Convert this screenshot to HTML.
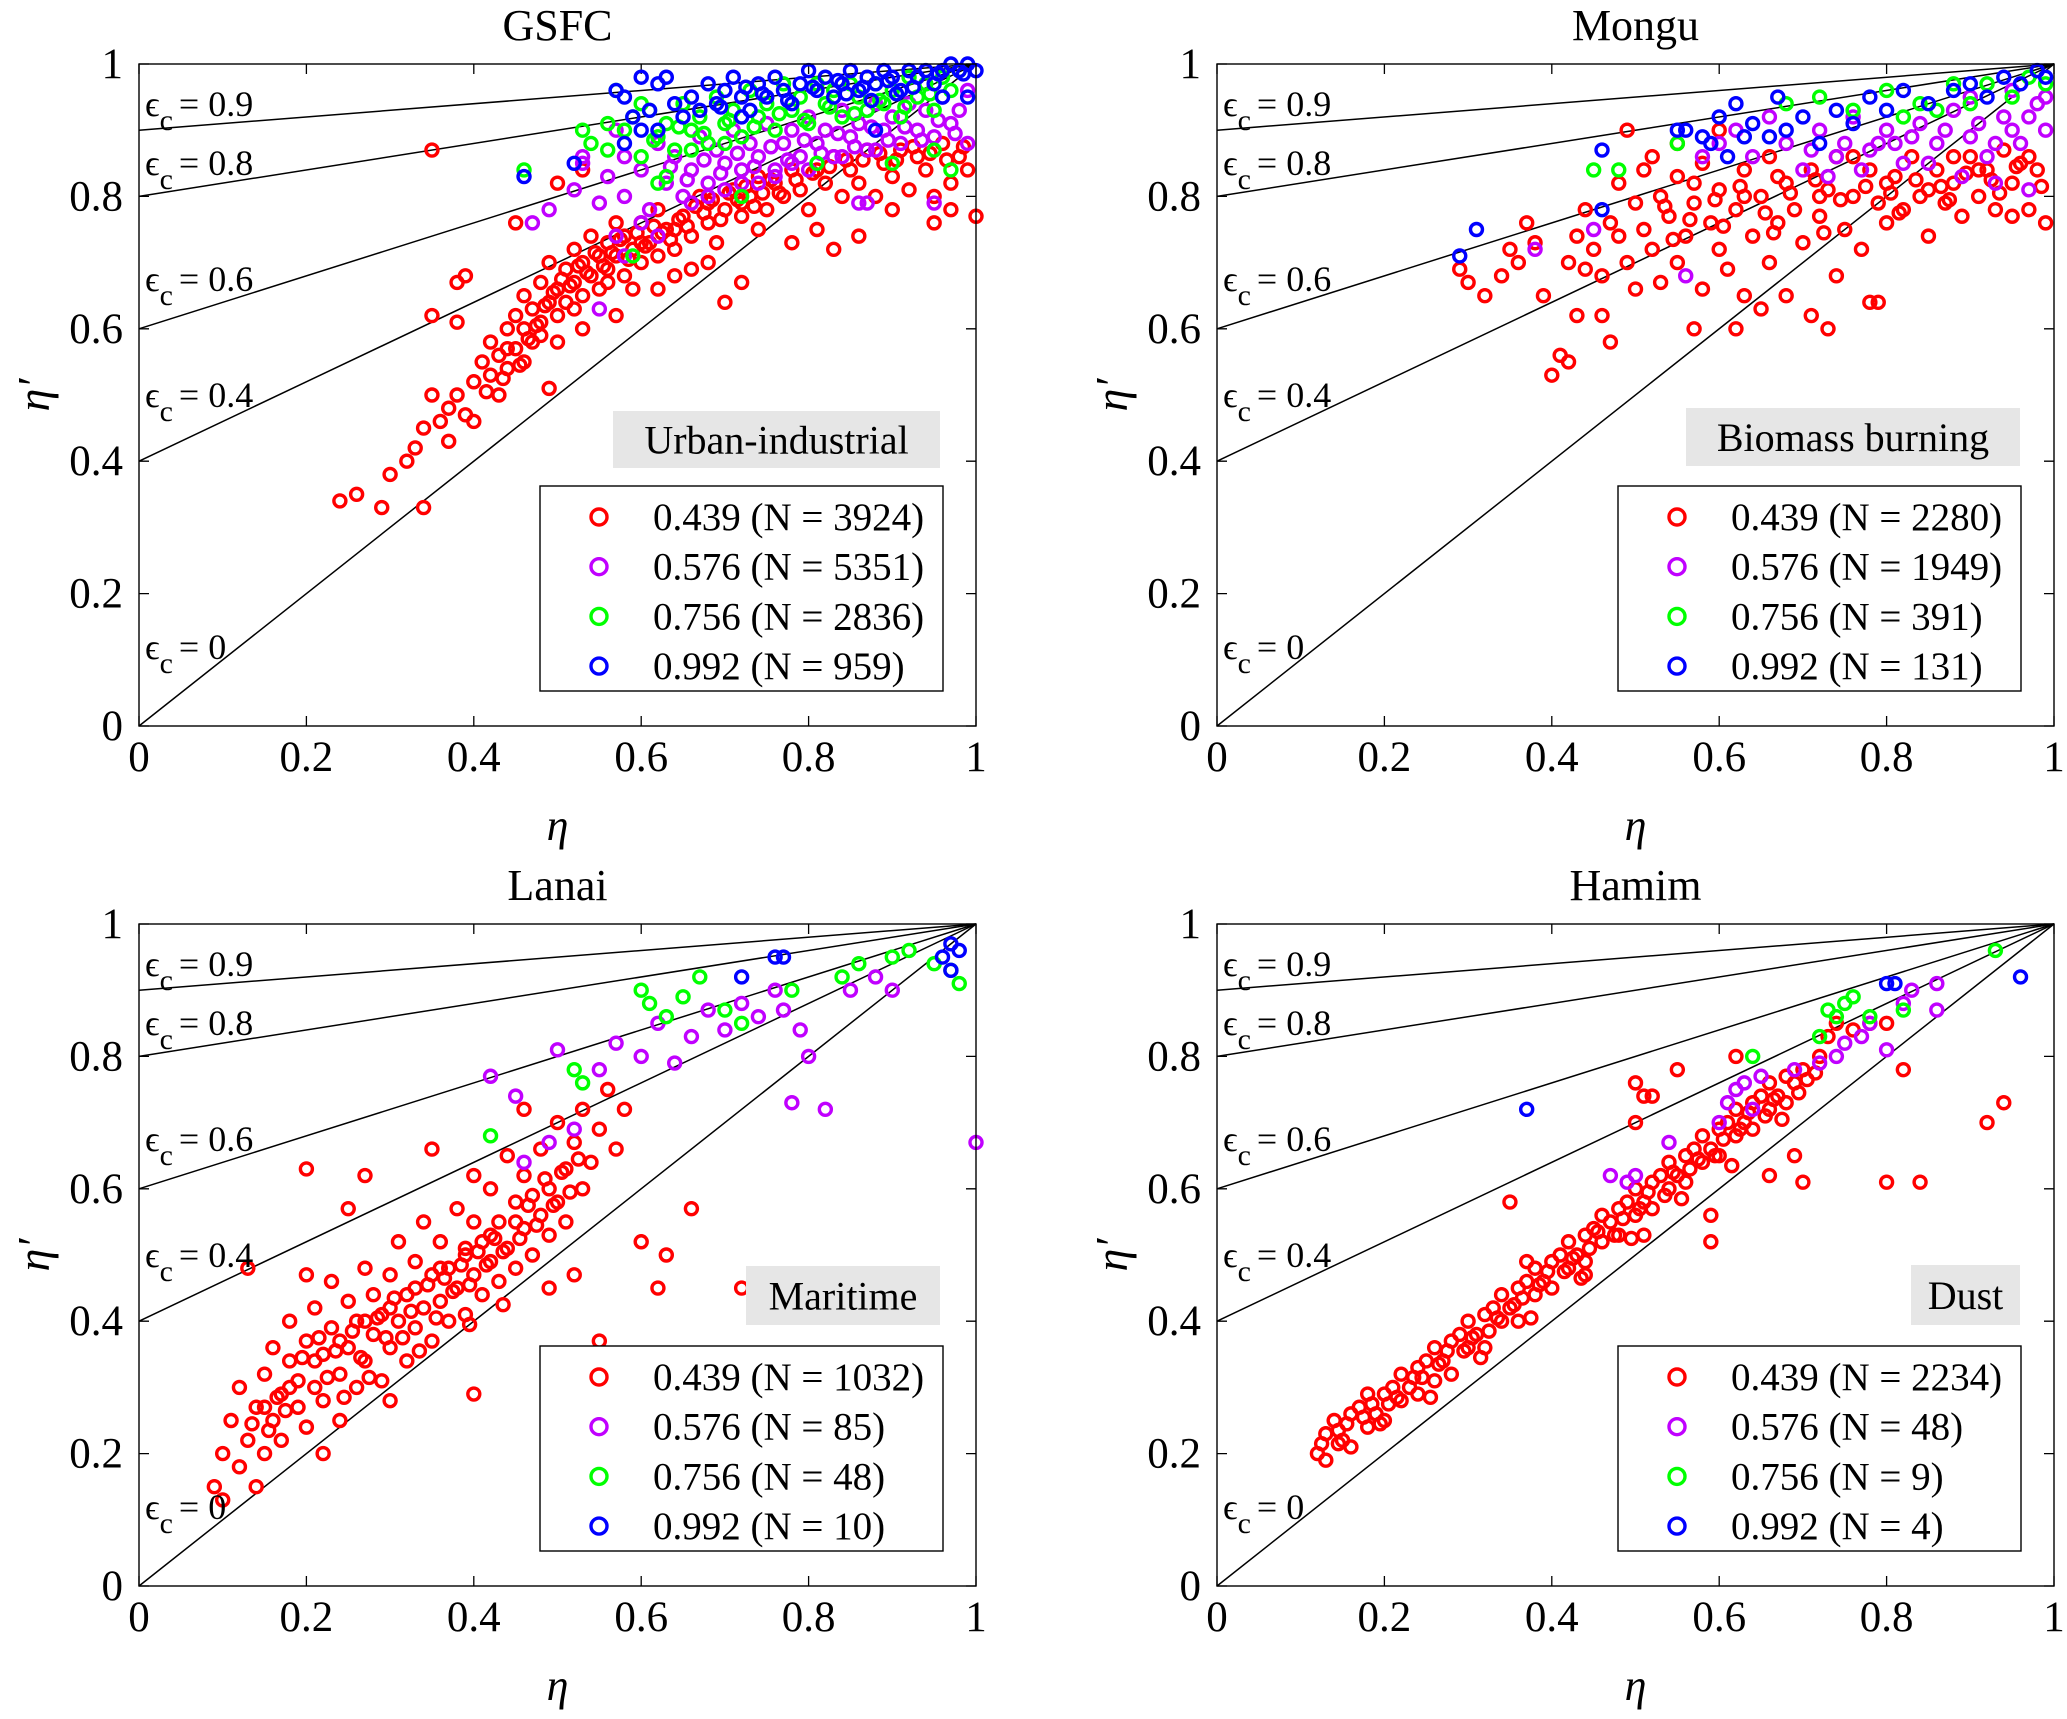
<!DOCTYPE html>
<html><head><meta charset="utf-8"><style>
html,body{margin:0;padding:0;background:#fff;}
svg{display:block;font-family:"Liberation Serif",serif;}
</style></head><body>
<svg id="fig" width="2067" height="1719" viewBox="0 0 2067 1719" xmlns="http://www.w3.org/2000/svg"></svg>
<script>
const epsValues=[0,0.4,0.6,0.8,0.9];
const tickValues=[0,0.2,0.4,0.6,0.8,1];
const tickLabels=["0","0.2","0.4","0.6","0.8","1"];
const seriesColors=["#ff0000","#c000ff","#00ff00","#0000ff"];
const seriesNames=["0.439","0.576","0.756","0.992"];
const titles=["GSFC","Mongu","Lanai","Hamim"];
const typeLabels=["Urban-industrial","Biomass burning","Maritime","Dust"];
const countsGSFC=[3924,5351,2836,959];
const countsMongu=[2280,1949,391,131];
const countsLanai=[1032,85,48,10];
const countsHamim=[2234,48,9,4];

const gsfcRed=[0.36,0.46,0.37,0.48,0.38,0.5,0.39,0.47,0.40,0.52,0.41,0.55,0.42,0.53,0.42,0.58,0.43,0.56,0.44,0.6,0.44,0.54,0.45,0.57,0.45,0.62,0.46,0.6,0.46,0.65,0.47,0.58,0.47,0.63,0.48,0.61,0.48,0.67,0.49,0.64,0.49,0.7,0.50,0.62,0.50,0.66,0.51,0.69,0.51,0.64,0.52,0.72,0.52,0.67,0.53,0.7,0.53,0.65,0.54,0.74,0.54,0.68,0.55,0.71,0.55,0.66,0.56,0.73,0.56,0.69,0.57,0.76,0.57,0.71,0.58,0.68,0.58,0.74,0.59,0.72,0.6,0.7,0.6,0.76,0.61,0.73,0.62,0.71,0.62,0.78,0.63,0.75,0.64,0.72,0.65,0.77,0.66,0.74,0.67,0.8,0.68,0.76,0.69,0.73,0.7,0.78,0.71,0.81,0.72,0.77,0.73,0.8,0.74,0.83,0.75,0.78,0.76,0.82,0.77,0.8,0.78,0.84,0.79,0.81,0.8,0.78,0.81,0.84,0.82,0.82,0.83,0.86,0.84,0.8,0.85,0.84,0.86,0.82,0.87,0.87,0.88,0.8,0.89,0.85,0.9,0.83,0.91,0.87,0.92,0.81,0.93,0.86,0.94,0.84,0.95,0.8,0.96,0.88,0.97,0.82,0.98,0.86,0.99,0.84,0.24,0.34,0.26,0.35,0.29,0.33,0.3,0.38,0.32,0.4,0.33,0.42,0.34,0.33,0.34,0.45,0.35,0.5,0.35,0.87,0.35,0.62,0.38,0.67,0.39,0.68,0.38,0.61,0.49,0.51,0.45,0.76,0.5,0.82,0.53,0.84,0.7,0.64,0.72,0.67,0.78,0.73,0.81,0.75,0.83,0.72,0.86,0.74,0.9,0.78,0.95,0.76,1.0,0.77,0.97,0.78,0.57,0.62,0.62,0.66,0.66,0.69,0.43,0.5,0.46,0.55,0.5,0.58,0.53,0.6,0.59,0.66,0.64,0.68,0.68,0.7,0.74,0.75,0.4,0.46,0.37,0.43,
0.415,0.505,0.435,0.525,0.455,0.545,0.465,0.585,0.475,0.605,0.485,0.635,0.495,0.655,0.505,0.675,0.515,0.665,0.525,0.695,0.535,0.685,0.545,0.715,0.555,0.695,0.565,0.715,0.575,0.735,0.585,0.705,0.595,0.745,0.605,0.725,0.615,0.755,0.625,0.745,0.635,0.735,0.645,0.765,0.655,0.755,0.665,0.785,0.675,0.775,0.685,0.795,0.695,0.765,0.705,0.805,0.715,0.795,0.725,0.815,0.735,0.785,0.745,0.805,0.755,0.825,0.765,0.805,0.785,0.825,0.805,0.835,0.825,0.845,0.845,0.855,0.865,0.855,0.885,0.865,0.905,0.855,0.925,0.875,0.945,0.865,0.965,0.855,0.985,0.875,0.44,0.57,0.48,0.59,0.52,0.63,0.56,0.67,0.6,0.73,0.64,0.75,0.68,0.79,0.72,0.79];
const gsfcPurple=[0.47,0.76,0.49,0.78,0.52,0.81,0.53,0.85,0.55,0.79,0.56,0.83,0.58,0.86,0.58,0.8,0.6,0.84,0.61,0.78,0.62,0.88,0.63,0.82,0.64,0.86,0.65,0.8,0.66,0.84,0.67,0.89,0.68,0.82,0.69,0.87,0.7,0.85,0.71,0.9,0.72,0.84,0.73,0.88,0.74,0.86,0.75,0.91,0.76,0.84,0.77,0.88,0.78,0.9,0.79,0.86,0.8,0.92,0.81,0.88,0.82,0.9,0.83,0.86,0.84,0.93,0.85,0.89,0.86,0.91,0.87,0.87,0.88,0.94,0.89,0.9,0.9,0.92,0.91,0.88,0.92,0.94,0.93,0.9,0.94,0.93,0.95,0.89,0.96,0.95,0.97,0.91,0.98,0.93,0.99,0.88,0.99,0.96,0.57,0.74,0.58,0.71,0.55,0.63,0.6,0.76,0.62,0.74,0.86,0.79,0.87,0.79,0.95,0.79,0.57,0.9,0.53,0.86,0.66,0.79,0.7,0.81,0.74,0.82,0.78,0.85,
0.635,0.845,0.655,0.825,0.675,0.855,0.695,0.835,0.715,0.865,0.735,0.845,0.755,0.875,0.775,0.855,0.795,0.885,0.815,0.865,0.835,0.895,0.855,0.875,0.875,0.905,0.895,0.885,0.915,0.905,0.935,0.885,0.955,0.915,0.975,0.895,0.68,0.8,0.72,0.82,0.76,0.83,0.8,0.84,0.84,0.86,0.88,0.87];
const gsfcGreen=[0.46,0.84,0.57,0.96,0.53,0.9,0.54,0.88,0.56,0.87,0.58,0.9,0.59,0.92,0.6,0.86,0.61,0.93,0.62,0.89,0.63,0.91,0.64,0.87,0.65,0.94,0.66,0.9,0.67,0.92,0.68,0.88,0.69,0.95,0.7,0.91,0.71,0.93,0.72,0.89,0.73,0.96,0.74,0.92,0.75,0.94,0.76,0.9,0.77,0.97,0.78,0.93,0.79,0.95,0.8,0.91,0.81,0.97,0.82,0.94,0.83,0.96,0.84,0.92,0.85,0.97,0.86,0.95,0.87,0.93,0.88,0.97,0.89,0.94,0.9,0.96,0.91,0.92,0.92,0.98,0.93,0.95,0.94,0.97,0.95,0.93,0.96,0.98,0.97,0.96,0.98,0.99,0.97,0.84,0.9,0.85,0.81,0.85,0.59,0.71,0.62,0.82,0.63,0.83,0.72,0.8,0.95,0.87,
0.615,0.885,0.645,0.905,0.675,0.895,0.705,0.915,0.735,0.905,0.765,0.925,0.795,0.915,0.825,0.935,0.855,0.925,0.885,0.945,0.915,0.935,0.945,0.955,0.56,0.91,0.6,0.94,0.66,0.87,0.7,0.88];
const gsfcBlue=[0.46,0.83,0.52,0.85,0.57,0.96,0.58,0.95,0.59,0.92,0.6,0.9,0.61,0.93,0.62,0.97,0.63,0.98,0.64,0.94,0.65,0.92,0.66,0.95,0.67,0.93,0.68,0.97,0.69,0.94,0.7,0.96,0.71,0.98,0.72,0.95,0.73,0.93,0.74,0.97,0.75,0.95,0.76,0.98,0.77,0.96,0.78,0.94,0.79,0.97,0.8,0.99,0.81,0.96,0.82,0.98,0.83,0.95,0.84,0.97,0.85,0.99,0.86,0.96,0.87,0.98,0.88,0.97,0.89,0.99,0.9,0.98,0.91,0.96,0.92,0.99,0.93,0.98,0.94,0.99,0.95,0.97,0.96,0.99,0.97,1.0,0.98,0.99,0.99,1.0,1.0,0.99,0.99,0.95,0.58,0.88,0.62,0.9,0.88,0.9,0.72,0.92,0.96,0.95,0.6,0.98,
0.745,0.955,0.775,0.945,0.805,0.965,0.835,0.975,0.865,0.965,0.895,0.975,0.925,0.965,0.955,0.985,0.985,0.985,0.695,0.935,0.725,0.965,0.845,0.955,0.875,0.945,0.905,0.955];

const monguRed=[0.29,0.69,0.3,0.67,0.32,0.65,0.34,0.68,0.35,0.72,0.36,0.7,0.37,0.76,0.38,0.73,0.39,0.65,0.4,0.53,0.41,0.56,0.42,0.55,0.42,0.7,0.43,0.74,0.44,0.78,0.45,0.72,0.46,0.68,0.46,0.62,0.47,0.58,0.47,0.76,0.48,0.82,0.48,0.74,0.49,0.7,0.5,0.79,0.5,0.66,0.51,0.84,0.51,0.75,0.52,0.72,0.53,0.8,0.53,0.67,0.54,0.77,0.55,0.83,0.55,0.7,0.56,0.74,0.57,0.79,0.58,0.66,0.58,0.85,0.59,0.76,0.6,0.72,0.6,0.81,0.61,0.69,0.62,0.78,0.63,0.84,0.63,0.65,0.64,0.74,0.65,0.8,0.66,0.7,0.66,0.86,0.67,0.76,0.68,0.82,0.68,0.65,0.69,0.78,0.7,0.73,0.71,0.84,0.71,0.62,0.72,0.77,0.73,0.81,0.74,0.68,0.74,0.86,0.75,0.75,0.76,0.8,0.77,0.72,0.78,0.84,0.78,0.64,0.79,0.79,0.8,0.76,0.81,0.83,0.82,0.78,0.83,0.86,0.84,0.8,0.85,0.74,0.86,0.84,0.87,0.79,0.88,0.82,0.89,0.77,0.9,0.86,0.91,0.8,0.92,0.84,0.93,0.78,0.94,0.87,0.95,0.82,0.96,0.85,0.97,0.78,0.98,0.84,0.99,0.76,0.49,0.9,0.55,0.88,0.6,0.9,0.62,0.6,0.65,0.63,0.57,0.6,0.44,0.69,0.43,0.62,0.73,0.6,0.79,0.64,0.95,0.77,0.97,0.86,0.52,0.86,0.57,0.82,0.63,0.8,0.67,0.83,0.72,0.8,0.76,0.86,0.8,0.82,0.85,0.81,0.88,0.86,0.91,0.84,
0.535,0.785,0.565,0.765,0.595,0.795,0.625,0.815,0.655,0.775,0.685,0.805,0.715,0.825,0.745,0.795,0.775,0.815,0.805,0.805,0.835,0.825,0.865,0.815,0.895,0.835,0.925,0.825,0.955,0.845,0.985,0.815,0.545,0.735,0.605,0.755,0.665,0.745,0.725,0.745,0.815,0.775,0.875,0.795,0.935,0.805];
const monguPurple=[0.38,0.72,0.45,0.75,0.56,0.68,0.62,0.9,0.64,0.86,0.66,0.92,0.68,0.88,0.7,0.84,0.72,0.9,0.74,0.86,0.76,0.92,0.78,0.87,0.8,0.9,0.82,0.85,0.84,0.91,0.86,0.88,0.88,0.93,0.9,0.89,0.92,0.86,0.94,0.92,0.96,0.88,0.98,0.94,0.99,0.9,0.97,0.81,0.93,0.82,0.89,0.83,0.85,0.85,0.81,0.88,0.77,0.84,0.73,0.83,0.58,0.86,0.6,0.88,0.9,0.95,0.95,0.96,
0.83,0.89,0.87,0.9,0.91,0.91,0.95,0.9,0.97,0.92,0.79,0.88,0.75,0.88,0.71,0.87,0.93,0.88,0.99,0.95];
const monguGreen=[0.45,0.84,0.48,0.84,0.55,0.88,0.68,0.94,0.72,0.95,0.76,0.93,0.8,0.96,0.84,0.94,0.88,0.97,0.9,0.94,0.92,0.97,0.95,0.95,0.97,0.98,0.99,0.97,0.86,0.93,0.82,0.92];
const monguBlue=[0.29,0.71,0.31,0.75,0.46,0.87,0.46,0.78,0.55,0.9,0.56,0.9,0.58,0.89,0.59,0.88,0.6,0.92,0.61,0.86,0.62,0.94,0.63,0.89,0.64,0.91,0.66,0.89,0.67,0.95,0.68,0.9,0.7,0.92,0.72,0.88,0.74,0.93,0.76,0.91,0.78,0.95,0.8,0.93,0.82,0.96,0.85,0.94,0.88,0.96,0.9,0.97,0.92,0.95,0.94,0.98,0.96,0.97,0.98,0.99,0.99,0.98];

const lanaiRed=[0.09,0.15,0.1,0.2,0.1,0.13,0.11,0.25,0.12,0.18,0.12,0.3,0.13,0.22,0.14,0.27,0.14,0.15,0.15,0.32,0.15,0.2,0.16,0.25,0.16,0.36,0.17,0.29,0.17,0.22,0.18,0.34,0.18,0.4,0.19,0.27,0.19,0.31,0.2,0.37,0.2,0.24,0.2,0.63,0.21,0.3,0.21,0.42,0.22,0.35,0.22,0.28,0.23,0.39,0.23,0.46,0.24,0.32,0.24,0.25,0.25,0.36,0.25,0.43,0.25,0.57,0.26,0.3,0.26,0.4,0.27,0.34,0.27,0.48,0.28,0.38,0.28,0.44,0.29,0.31,0.29,0.41,0.3,0.36,0.3,0.47,0.31,0.4,0.31,0.52,0.32,0.34,0.32,0.44,0.33,0.39,0.33,0.49,0.34,0.42,0.34,0.55,0.35,0.37,0.35,0.47,0.36,0.43,0.36,0.52,0.37,0.4,0.37,0.48,0.38,0.45,0.38,0.57,0.39,0.41,0.39,0.51,0.4,0.47,0.4,0.55,0.4,0.62,0.41,0.44,0.41,0.52,0.42,0.49,0.42,0.6,0.43,0.55,0.43,0.46,0.44,0.51,0.44,0.65,0.45,0.58,0.45,0.48,0.46,0.54,0.46,0.62,0.47,0.5,0.47,0.59,0.48,0.56,0.48,0.66,0.49,0.53,0.49,0.6,0.5,0.58,0.5,0.7,0.51,0.63,0.51,0.55,0.52,0.67,0.53,0.6,0.53,0.72,0.54,0.64,0.55,0.69,0.56,0.75,0.57,0.66,0.58,0.72,0.49,0.45,0.52,0.47,0.55,0.37,0.6,0.52,0.62,0.45,0.63,0.5,0.66,0.57,0.72,0.45,0.5,0.3,0.4,0.29,0.3,0.28,0.22,0.2,0.13,0.48,0.27,0.62,0.2,0.47,0.35,0.66,0.46,0.72,0.15,0.27,0.18,0.3,0.21,0.34,0.24,0.37,0.27,0.4,0.3,0.42,0.33,0.45,0.36,0.48,0.39,0.5,0.42,0.53,0.45,0.55,
0.135,0.245,0.165,0.285,0.195,0.345,0.215,0.375,0.235,0.355,0.255,0.385,0.265,0.345,0.285,0.405,0.295,0.375,0.305,0.435,0.315,0.375,0.325,0.415,0.345,0.455,0.355,0.405,0.365,0.465,0.375,0.445,0.385,0.485,0.395,0.455,0.405,0.505,0.415,0.485,0.425,0.525,0.435,0.505,0.455,0.525,0.465,0.575,0.475,0.545,0.485,0.615,0.495,0.575,0.505,0.625,0.515,0.595,0.525,0.645,0.155,0.235,0.175,0.265,0.225,0.315,0.245,0.285,0.275,0.315,0.335,0.355,0.395,0.395,0.435,0.425];
const lanaiPurple=[0.42,0.77,0.45,0.74,0.5,0.81,0.52,0.69,0.55,0.78,0.57,0.82,0.6,0.8,0.62,0.85,0.64,0.79,0.66,0.83,0.68,0.87,0.7,0.84,0.72,0.88,0.74,0.86,0.76,0.9,0.77,0.87,0.78,0.73,0.79,0.84,0.8,0.8,0.82,0.72,1.0,0.67,0.85,0.9,0.88,0.92,0.9,0.9,0.46,0.64,0.49,0.67];
const lanaiGreen=[0.42,0.68,0.52,0.78,0.53,0.76,0.6,0.9,0.61,0.88,0.63,0.86,0.65,0.89,0.67,0.92,0.7,0.87,0.72,0.85,0.78,0.9,0.84,0.92,0.86,0.94,0.9,0.95,0.92,0.96,0.95,0.94,0.98,0.91,0.97,0.93];
const lanaiBlue=[0.72,0.92,0.76,0.95,0.77,0.95,0.96,0.95,0.97,0.93,0.98,0.96,0.97,0.97];

const hamimRed=[0.12,0.2,0.13,0.23,0.13,0.19,0.14,0.25,0.15,0.22,0.16,0.26,0.16,0.21,0.17,0.27,0.18,0.24,0.18,0.29,0.19,0.26,0.2,0.29,0.2,0.25,0.21,0.3,0.22,0.28,0.22,0.32,0.23,0.3,0.24,0.33,0.24,0.29,0.25,0.34,0.26,0.31,0.26,0.36,0.27,0.34,0.28,0.37,0.28,0.32,0.29,0.38,0.3,0.36,0.3,0.4,0.31,0.38,0.32,0.41,0.32,0.36,0.33,0.42,0.34,0.4,0.34,0.44,0.35,0.42,0.36,0.45,0.36,0.4,0.37,0.46,0.38,0.44,0.38,0.48,0.39,0.46,0.4,0.49,0.4,0.45,0.41,0.5,0.42,0.48,0.42,0.52,0.43,0.5,0.44,0.53,0.44,0.49,0.45,0.54,0.46,0.52,0.46,0.56,0.47,0.55,0.48,0.57,0.48,0.53,0.49,0.58,0.5,0.56,0.5,0.6,0.51,0.58,0.52,0.61,0.52,0.57,0.53,0.62,0.54,0.6,0.54,0.64,0.55,0.62,0.56,0.65,0.56,0.61,0.57,0.66,0.58,0.64,0.58,0.68,0.59,0.66,0.6,0.69,0.6,0.65,0.61,0.7,0.62,0.68,0.62,0.72,0.63,0.7,0.64,0.73,0.64,0.69,0.65,0.74,0.66,0.72,0.66,0.76,0.67,0.74,0.68,0.77,0.68,0.73,0.69,0.76,0.7,0.78,0.72,0.8,0.73,0.83,0.74,0.85,0.76,0.84,0.78,0.85,0.8,0.85,0.35,0.58,0.37,0.49,0.44,0.47,0.5,0.76,0.5,0.7,0.51,0.74,0.52,0.74,0.55,0.78,0.59,0.56,0.59,0.52,0.51,0.53,0.66,0.62,0.7,0.61,0.69,0.65,0.8,0.61,0.84,0.61,0.82,0.78,0.92,0.7,0.94,0.73,0.62,0.8,0.145,0.235,0.175,0.255,0.205,0.275,0.235,0.315,0.265,0.335,0.295,0.355,0.325,0.385,0.355,0.425,0.385,0.455,0.415,0.475,0.445,0.51,0.475,0.53,0.505,0.57,0.535,0.59,0.565,0.63,0.595,0.65,0.625,0.69,0.655,0.71,
0.125,0.215,0.155,0.245,0.185,0.275,0.215,0.285,0.245,0.315,0.275,0.355,0.305,0.375,0.335,0.405,0.365,0.435,0.395,0.475,0.425,0.495,0.455,0.535,0.485,0.555,0.515,0.595,0.545,0.625,0.575,0.645,0.605,0.675,0.635,0.715,0.665,0.735,0.695,0.745,0.705,0.765,0.715,0.775,0.145,0.215,0.195,0.245,0.255,0.285,0.315,0.345,0.375,0.405,0.435,0.465,0.495,0.525,0.555,0.585,0.615,0.635,0.675,0.705];
const hamimPurple=[0.47,0.62,0.49,0.61,0.5,0.62,0.54,0.67,0.6,0.7,0.61,0.73,0.62,0.75,0.63,0.76,0.64,0.72,0.65,0.77,0.69,0.78,0.72,0.79,0.74,0.8,0.75,0.82,0.77,0.83,0.78,0.85,0.8,0.81,0.82,0.88,0.83,0.9,0.86,0.87,0.86,0.91];
const hamimGreen=[0.64,0.8,0.72,0.83,0.73,0.87,0.75,0.88,0.76,0.89,0.78,0.86,0.82,0.87,0.93,0.96,0.74,0.86];
const hamimBlue=[0.37,0.72,0.8,0.91,0.81,0.91,0.96,0.92];

const NS="http://www.w3.org/2000/svg";
const svg=document.getElementById('fig');
function mk(tag,attrs,parent,text){const e=document.createElementNS(NS,tag);for(const k in attrs)e.setAttribute(k,attrs[k]);if(text!==undefined)e.textContent=text;parent.appendChild(e);return e;}

const PW=837,PH=662;
const panels=[
 {x0:139,y0:64,data:[gsfcRed,gsfcPurple,gsfcGreen,gsfcBlue],counts:countsGSFC,lab:[613,411,327,57]},
 {x0:1217,y0:64,data:[monguRed,monguPurple,monguGreen,monguBlue],counts:countsMongu,lab:[1686,408,334,58]},
 {x0:139,y0:924,data:[lanaiRed,lanaiPurple,lanaiGreen,lanaiBlue],counts:countsLanai,lab:[746,1266,194,59]},
 {x0:1217,y0:924,data:[hamimRed,hamimPurple,hamimGreen,hamimBlue],counts:countsHamim,lab:[1911,1265,109,60]}
];
const epsLabelY=[583,331,215,99,40];

panels.forEach((p,i)=>{
 const g=mk('g',{},svg);
 
 
 const sx=v=>p.x0+v*PW, sy=v=>p.y0+PH-v*PH;
 const t=mk('text',{x:sx(0.5),y:p.y0-24,'text-anchor':'middle','font-size':44},g,titles[i]);
 
 
 tickValues.forEach((v,k)=>{
  const tk=mk('path',{d:`M${sx(v)},${sy(0)}v-10M${sx(v)},${sy(1)}v10M${sx(0)},${sy(v)}h10M${sx(1)},${sy(v)}h-10`,stroke:'#000','stroke-width':1.3},g);
  
  
  const xl=mk('text',{x:sx(v),y:sy(0)+45,'text-anchor':'middle','font-size':43},g,tickLabels[k]);
  
  
  const yl=mk('text',{x:sx(0)-16,y:sy(v)+14,'text-anchor':'end','font-size':43},g,tickLabels[k]);
  
  
 });
 const xa=mk('text',{x:sx(0.5),y:sy(0)+114,'text-anchor':'middle','font-size':44,'font-style':'italic'},g,'η');
 
 
 const ya=mk('text',{x:0,y:0,'text-anchor':'middle','font-size':46,'font-style':'italic',transform:`translate(${p.x0-90},${sy(0.5)}) rotate(-90)`},g,'η′');
 
 
 epsValues.forEach((e,k)=>{
  const l=mk('line',{x1:sx(0),y1:sy(e),x2:sx(1),y2:sy(1),stroke:'#000','stroke-width':1.5},g);
  
  
 });
 p.data.forEach((arr,s)=>{
  for(let j=0;j<arr.length;j+=2){
   const c=mk('circle',{cx:sx(arr[j]),cy:sy(arr[j+1]),r:6,fill:'none',stroke:seriesColors[s],'stroke-width':3.4},g);
   
   
  }
 });
 epsValues.forEach((e,k)=>{
  const tx=mk('text',{x:sx(0)+6,y:p.y0+epsLabelY[k]+12,'font-size':36},g);
  
  
  mk('tspan',{},tx,'ϵ');
  mk('tspan',{dy:14,'font-size':30},tx,'c');
  mk('tspan',{dy:-14,dx:6},tx,'= '+e);
 });
 const fr=mk('rect',{x:p.x0,y:p.y0,width:PW,height:PH,fill:'none',stroke:'#000','stroke-width':1.4},g);
 
 
 const [lx,ly,lw,lh]=p.lab;
 const lb=mk('rect',{x:lx,y:ly,width:lw,height:lh,fill:'#e6e6e6'},g);
 
 
 const lt=mk('text',{x:lx+lw/2,y:ly+lh/2+14,'text-anchor':'middle','font-size':40},g,typeLabels[i]);
 
 
 const LX=p.x0+401,LY=p.y0+422;
 const lg=mk('rect',{x:LX,y:LY,width:403,height:205,fill:'#fff',stroke:'#000','stroke-width':1.4},g);
 
 
 p.counts.forEach((n,s)=>{
  const cy=LY+31+s*49.7;
  const m=mk('circle',{cx:LX+59,cy:cy,r:8,fill:'none',stroke:seriesColors[s],'stroke-width':3.4},g);
  
  
  const lt2=mk('text',{x:LX+113,y:cy+13,'font-size':39},g,seriesNames[s]+' (N = '+n+')');
  
  
 });
});
</script>
</body></html>
